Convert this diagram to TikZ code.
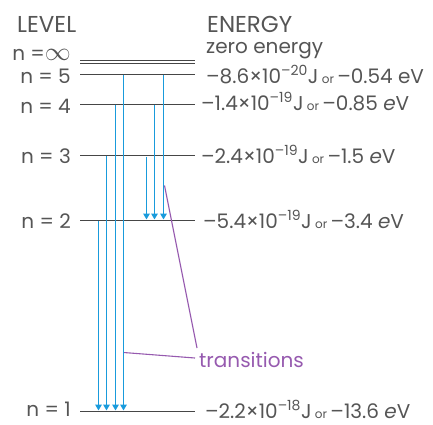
\documentclass[tikz,border=0pt]{standalone}
\usepackage{fontspec}
\setmainfont{Poppins}
\usetikzlibrary{arrows.meta}
\definecolor{txtgray}{RGB}{85,85,85}
\definecolor{lvlgray}{RGB}{70,70,70}
\definecolor{transblue}{RGB}{25,155,220}
\definecolor{notepurple}{RGB}{150,90,175}
\newcommand{\orword}{\,{\fontsize{12}{13}\selectfont or}\,}
\begin{document}
\begin{tikzpicture}[x=1pt,y=-1pt,
  levelline/.style={draw=lvlgray,line width=1.1pt},
  trans/.style={draw=transblue,line width=1.5pt,-{Triangle[width=6.5pt,length=6pt]},shorten >=1pt},
  note/.style={draw=notepurple,line width=1.1pt},
  head/.style={anchor=base west,inner sep=0pt,text=txtgray,font=\fontsize{23}{26}\selectfont},
  lvl/.style={anchor=base east,inner sep=0pt,text=txtgray,font=\fontsize{20}{24}\selectfont},
  en/.style={anchor=base west,inner sep=0pt,text=txtgray,font=\fontsize{20}{24}\selectfont}]
\useasboundingbox (0,0) rectangle (433,424);
% energy levels
\draw[levelline] (80,60.5) coordinate (ninf) -- ++(115,0) coordinate (ninfe);
\draw[levelline] (80,63.5) -- ++(115,0);
\draw[levelline] (80,74.5) coordinate (n5) -- ++(115,0) coordinate (n5e);
\draw[levelline] (80,104.5) coordinate (n4) -- ++(115,0) coordinate (n4e);
\draw[levelline] (80,155.5) coordinate (n3) -- ++(115,0) coordinate (n3e);
\draw[levelline] (80,220.5) coordinate (n2) -- ++(115,0) coordinate (n2e);
\draw[levelline] (80,411.5) coordinate (n1) -- ++(115,0) coordinate (n1e);
% headings
\node[head] (level) at (17,32) {LEVEL};
\node[head] (energy) at (207,32) {ENERGY};
% level labels
\node[lvl] (linf) at ([xshift=-9pt,yshift=0pt]ninf) {n =\scalebox{1.25}{$\infty$}};
\node[lvl] (l5) at ([xshift=-9pt,yshift=-9pt]n5) {n = 5};
\node[lvl] (l4) at ([xshift=-9pt,yshift=-8.5pt]n4) {n = 4};
\node[lvl] (l3) at ([xshift=-9pt,yshift=-8pt]n3) {n = 3};
\node[lvl] (l2) at ([xshift=-9pt,yshift=-8pt]n2) {n = 2};
\node[lvl] (l1) at ([xshift=-9pt,yshift=-5pt]n1) {n = 1};
% energy labels
\node[en] (einf) at ([xshift=11pt,yshift=7.5pt]ninfe) {zero energy};
\node[en] (e5) at ([xshift=11pt,yshift=-9pt]n5e) {–8.6×10\textsuperscript{–20}J\orword–0.54 eV};
\node[en] (e4) at ([xshift=6pt,yshift=-6pt]n4e) {–1.4×10\textsuperscript{–19}J\orword–0.85 \textit{e}V};
\node[en] (e3) at ([xshift=6pt,yshift=-7.6pt]n3e) {–2.4×10\textsuperscript{–19}J\orword–1.5 \textit{e}V};
\node[en] (e2) at ([xshift=8pt,yshift=-8pt]n2e) {–5.4×10\textsuperscript{–19}J\orword–3.4 \textit{e}V};
\node[en] (e1) at ([xshift=10pt,yshift=-6.5pt]n1e) {–2.2×10\textsuperscript{–18}J\orword–13.6 \textit{e}V};
% transitions down to n=1
\draw[trans] ([xshift=18.5pt]n2) -- ([xshift=18.5pt]n1);
\draw[trans] ([xshift=26.5pt]n3) -- ([xshift=26.5pt]n1);
\draw[trans] ([xshift=35.5pt]n4) -- ([xshift=35.5pt]n1);
\draw[trans] ([xshift=43.5pt]n5) -- coordinate[pos=0.825] (m51) ([xshift=43.5pt]n1);
% transitions down to n=2
\draw[trans] ([xshift=66.5pt,yshift=-1pt]n3) -- ([xshift=66.5pt]n2);
\draw[trans] ([xshift=74.5pt]n4) -- ([xshift=74.5pt]n2);
\draw[trans] ([xshift=83.5pt]n5) -- coordinate[pos=0.76] (m52) ([xshift=83.5pt]n2);
% label
\node[en,anchor=west,text=notepurple] (tr) at (199,360) {transitions};
\draw[note] ([xshift=1pt]m52) -- ([xshift=-2pt,yshift=12pt]tr.west);
\draw[note] ([xshift=0.5pt]m51) -- ([xshift=-4pt,yshift=2pt]tr.west);
\end{tikzpicture}
\end{document}
